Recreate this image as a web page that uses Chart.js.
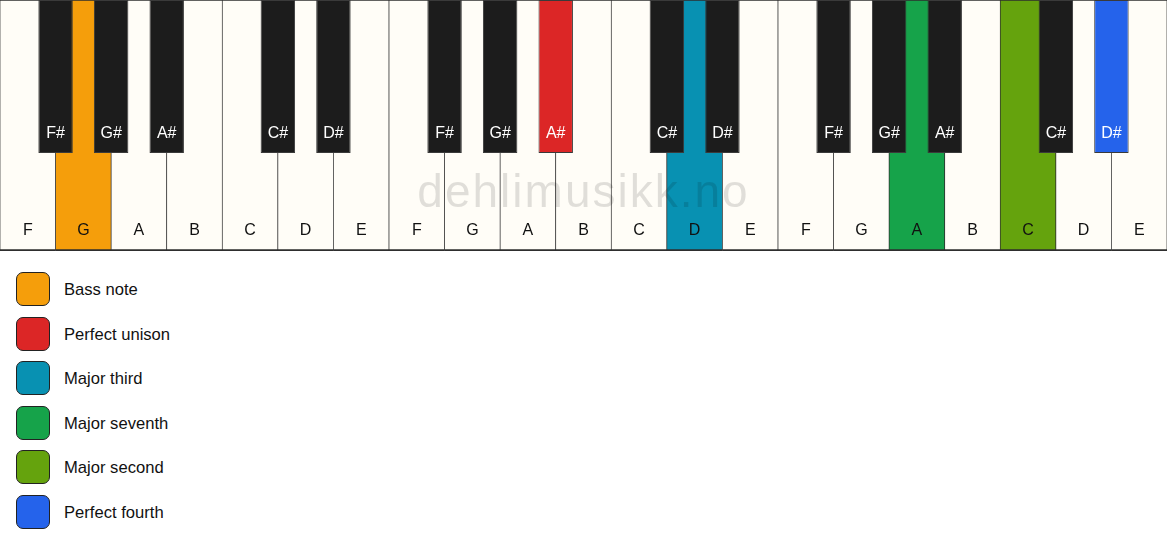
<!DOCTYPE html>
<html>
<head>
<meta charset="utf-8">
<script src="https://cdn.jsdelivr.net/npm/chart.js@4"></script>
<style>
    body { margin: 0; background: #ffffff; font-family: "Liberation Sans", Arial, sans-serif; }
    #keys { position: relative; width: 1167px; height: 251px; }
    #legend { list-style: none; margin: 21px 0 0 0; padding: 0 0 0 16px; }
    #legend li { display: flex; align-items: center; height: 34px; margin-bottom: 10.6px; }
    #legend .box { width: 34px; height: 34px; box-sizing: border-box; border: 1.5px solid #222; border-radius: 7px; }
    #legend .text { margin-left: 14px; font-size: 16.6px; color: #111; position: relative; top: 1px; }
</style>
</head>
<body>
<div id="keys"><canvas id="myChart"></canvas></div>
<ul id="legend"></ul>
<script>
// three octaves from F to E
const whiteNotes = [
    'F', 'G', 'A', 'B', 'C', 'D', 'E',
    'F', 'G', 'A', 'B', 'C', 'D', 'E',
    'F', 'G', 'A', 'B', 'C', 'D', 'E',
];
const sharpNotes = ['F', 'G', 'A', 'C', 'D'];
const whiteLength = 1;
const blackLength = 0.61;

const roleNames = ['Bass note', 'Perfect unison', 'Major third', 'Major seventh', 'Major second', 'Perfect fourth'];
const roleColors = ['#f59e0b', '#dc2626', '#0891b2', '#16a34a', '#65a30d', '#2563eb'];
// [white|black, index of key in its row]
const roleKeys = [['white', 1], ['black', 7], ['white', 12], ['white', 16], ['white', 18], ['black', 14]];

const watermark = 'dehlimusikk.no';

// black keys sit on the boundary after every white key that has a sharp
const blackNotes = [];
const blackPos = [];
whiteNotes.forEach((n, i) => {
    if (sharpNotes.includes(n) && i < whiteNotes.length - 1) {
        blackNotes.push(n + '#');
        blackPos.push(i + 1);
    }
});

const whiteColors = whiteNotes.map(() => '#fffdf7');
const blackColors = blackNotes.map(() => '#1c1c1c');
roleKeys.forEach(([row, idx], r) => {
    if (row === 'white') whiteColors[idx] = roleColors[r];
    else blackColors[idx] = roleColors[r];
});

const keyLabels = {
    id: 'keyLabels',
    afterDatasetsDraw(chart) {
        const c = chart.ctx;
        c.save();
        c.font = '16px "Liberation Sans", Arial, sans-serif';
        c.textAlign = 'center';
        c.textBaseline = 'middle';
        chart.data.datasets.forEach((ds, di) => {
            chart.getDatasetMeta(di).data.forEach((bar, i) => {
                c.fillStyle = ds.labelColor;
                c.fillText(ds.noteNames[i], bar.x, bar.y - 20);
            });
        });
        c.restore();
    },
    afterDraw(chart) {
        const c = chart.ctx;
        const area = chart.chartArea;
        c.save();
        c.font = '46px "Liberation Sans", Arial, sans-serif';
        c.letterSpacing = '2px';
        c.textAlign = 'center';
        c.textBaseline = 'alphabetic';
        c.fillStyle = 'rgba(0, 0, 0, 0.12)';
        c.fillText(watermark, (area.left + area.right) / 2, 207);
        c.restore();
    }
};

const ctx = document.getElementById('myChart').getContext('2d');
let myChart = new Chart(ctx, {
    type: 'bar',
    data: {
        labels: whiteNotes,
        datasets: [
            {
                label: 'Black keys',
                data: blackPos.map(x => ({ x: x, y: blackLength })),
                noteNames: blackNotes,
                labelColor: '#ffffff',
                xAxisID: 'xb',
                backgroundColor: blackColors,
                borderColor: '#3a3a3a',
                borderWidth: 1,
                borderSkipped: false,
                grouped: false,
                barPercentage: 0.62,
                categoryPercentage: 1,
                order: 0,
            },
            {
                label: 'White keys',
                data: whiteNotes.map(() => whiteLength),
                noteNames: whiteNotes,
                labelColor: '#111111',
                xAxisID: 'x',
                backgroundColor: whiteColors,
                borderColor: '#2e2e2e',
                borderWidth: { top: 1, right: 0.7, bottom: 2, left: 0.7 },
                borderSkipped: false,
                grouped: false,
                barPercentage: 1,
                categoryPercentage: 1,
                order: 1,
            },
        ],
    },
    options: {
        responsive: true,
        maintainAspectRatio: false,
        animation: false,
        layout: { padding: 0 },
        plugins: {
            legend: { display: false },
            tooltip: { enabled: false },
        },
        scales: {
            x: { type: 'category', offset: true, display: false },
            xb: { type: 'linear', min: 0, max: whiteNotes.length, offset: false, display: false, ticks: { stepSize: 1 } },
            y: { type: 'linear', min: 0, max: 1, reverse: true, display: false },
        },
    },
    plugins: [keyLabels],
});

// html legend
const legend = document.getElementById('legend');
roleNames.forEach((name, i) => {
    const li = document.createElement('li');
    const box = document.createElement('span');
    box.className = 'box';
    box.style.background = roleColors[i];
    const text = document.createElement('span');
    text.className = 'text';
    text.textContent = name;
    li.appendChild(box);
    li.appendChild(text);
    legend.appendChild(li);
});
</script>
</body>
</html>
